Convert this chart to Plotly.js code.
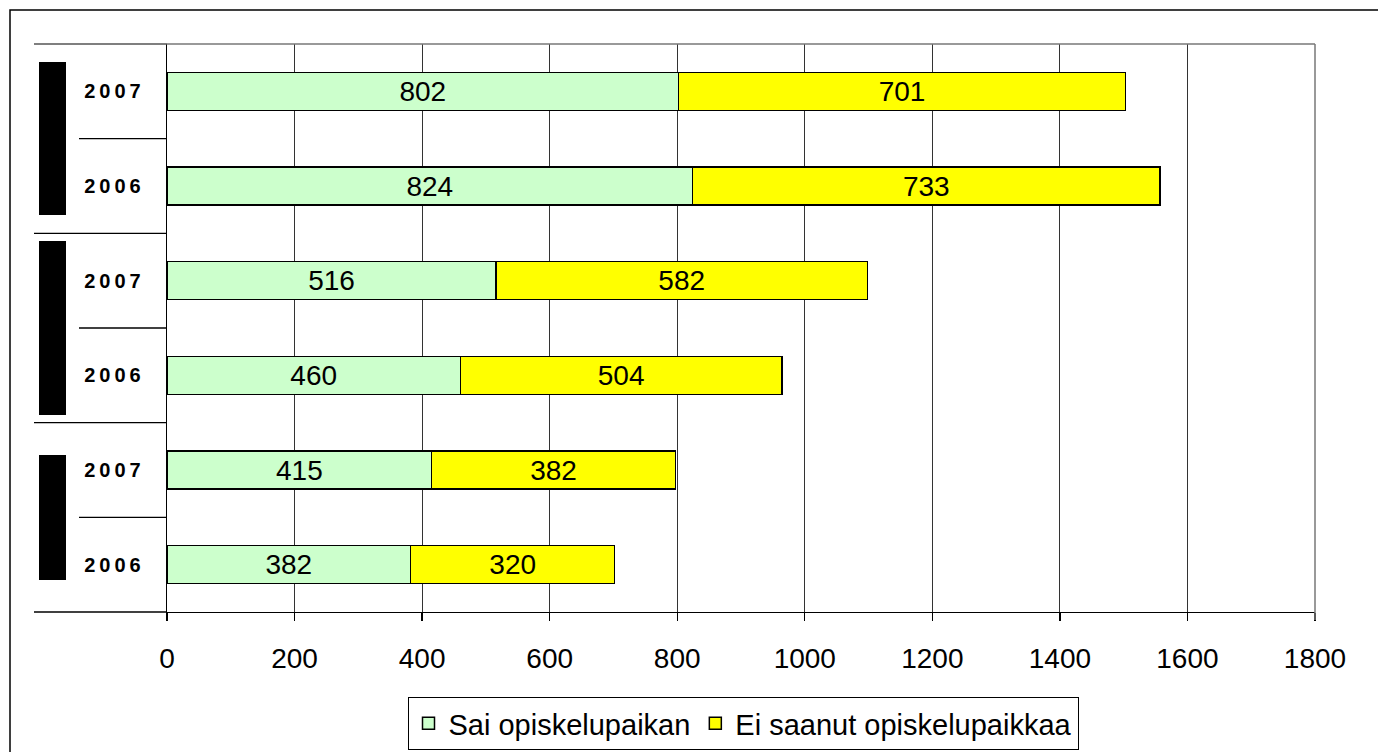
<!DOCTYPE html>
<html>
<head>
<meta charset="utf-8">
<script src="https://cdn.plot.ly/plotly-3.0.1.min.js"></script>
<style>
html, body { margin: 0; padding: 0; background: #fff; }
#chart { width: 1378px; height: 752px; }
.yaxislayer-above text { letter-spacing: 4px; }
</style>
</head>
<body>
<div id="chart"></div>
<script>
// Row labels (top to bottom)
var yearLabels = ['2007', '2006', '2007', '2006', '2007', '2006'];
// Series values (top to bottom)
var saiValues = [802, 824, 516, 460, 415, 382];
var eiValues = [701, 733, 582, 504, 382, 320];
var seriesNames = ['Sai opiskelupaikan', 'Ei saanut opiskelupaikkaa'];
var xTickVals = [0, 200, 400, 600, 800, 1000, 1200, 1400, 1600, 1800];
// group sizes (rows per group, top to bottom)
var groupSizes = [2, 2, 2];

var rowIdx = yearLabels.map(function (_, i) { return i; });
var nRows = yearLabels.length;
var FONT = 'Liberation Sans, Arial, sans-serif';

var traces = [
  {
    type: 'bar', orientation: 'h', name: seriesNames[0],
    y: rowIdx, x: saiValues, width: 0.4,
    text: saiValues.map(String), textposition: 'inside', insidetextanchor: 'middle',
    constraintext: 'none',
    textfont: { family: FONT, size: 28, color: '#000' },
    marker: { color: '#CCFFCC', line: { color: '#000', width: 1.5 } },
    hoverinfo: 'x'
  },
  {
    type: 'bar', orientation: 'h', name: seriesNames[1],
    y: rowIdx, x: eiValues, width: 0.4,
    text: eiValues.map(String), textposition: 'inside', insidetextanchor: 'middle',
    constraintext: 'none',
    textfont: { family: FONT, size: 28, color: '#000' },
    marker: { color: '#FFFF00', line: { color: '#000', width: 1.5 } },
    hoverinfo: 'x'
  }
];

// paper helpers
var W = 1378, H = 752;
var L = 167, R = 1315, T = 44, B = 612;
function px(x) { return (x - L) / (R - L); }
function py(y) { return 1 - (y - T) / (B - T); }

var shapes = [];
// outer frame
shapes.push({ type: 'rect', xref: 'paper', yref: 'paper', x0: px(10), x1: 1.3, y0: -0.6, y1: py(10),
  line: { color: '#000', width: 1.5 }, fillcolor: 'rgba(0,0,0,0)', layer: 'below' });
// row separators (left of the plot)
var groupBounds = [0];
groupSizes.forEach(function (s) { groupBounds.push(groupBounds[groupBounds.length - 1] + s); });
for (var k = 0; k <= nRows; k++) {
  var isGroup = groupBounds.indexOf(k) >= 0;
  var yp = 1 - k / nRows;
  shapes.push({ type: 'line', xref: 'paper', yref: 'paper',
    x0: isGroup ? px(34) : px(79), x1: 0, y0: yp, y1: yp,
    line: { color: k === 0 ? '#555' : '#000', width: 1.3 } });
}
// top and right border of plot area (grey)
shapes.push({ type: 'line', xref: 'paper', yref: 'paper', x0: 0, x1: 1, y0: 1, y1: 1, line: { color: '#777', width: 1.5 } });
shapes.push({ type: 'line', xref: 'paper', yref: 'paper', x0: 1, x1: 1, y0: 0, y1: 1, line: { color: '#777', width: 1.5 } });
shapes.push({ type: 'line', xref: 'paper', yref: 'paper', x0: 1, x1: 1, y0: 0, y1: py(620), line: { color: '#777', width: 1.5 } });
// black group label boxes
var boxes = [[62, 215], [241, 415], [455, 580]];
boxes.forEach(function (b) {
  shapes.push({ type: 'rect', xref: 'paper', yref: 'paper', x0: px(39), x1: px(66), y0: py(b[1]), y1: py(b[0]),
    fillcolor: '#000', line: { width: 0 } });
});

var layout = {
  width: W, height: H,
  margin: { l: L, r: W - R, t: T, b: H - B },
  paper_bgcolor: '#fff', plot_bgcolor: '#fff',
  barmode: 'stack',
  showlegend: true,
  font: { family: FONT, color: '#000' },
  xaxis: {
    range: [0, 1800], tickvals: xTickVals, ticktext: xTickVals.map(String),
    showgrid: true, gridcolor: '#333', gridwidth: 1,
    zeroline: false, showline: true, linecolor: '#000', linewidth: 1.3,
    ticks: 'outside', ticklen: 8, tickcolor: '#000', tickwidth: 1.3,
    ticklabelstandoff: 13, automargin: false,
    tickfont: { size: 28, color: '#000' }, fixedrange: true
  },
  yaxis: {
    range: [nRows - 0.5, -0.5],
    tickvals: rowIdx, ticktext: yearLabels,
    showgrid: false, zeroline: false, showline: true, linecolor: '#000', linewidth: 1.3,
    ticks: '', ticklabelstandoff: 17, automargin: false,
    tickfont: { size: 20, color: '#000', weight: 'bold', family: FONT },
    fixedrange: true
  },
  legend: {
    orientation: 'h', xref: 'container', yref: 'container',
    x: 743 / W, xanchor: 'center', y: 1 - 697 / H, yanchor: 'top',
    bordercolor: '#000', borderwidth: 1, bgcolor: '#fff',
    font: { size: 29, color: '#000' }, traceorder: 'normal'
  },
  shapes: shapes
};

Plotly.newPlot('chart', traces, layout, { displayModeBar: false, staticPlot: true });
</script>
</body>
</html>
